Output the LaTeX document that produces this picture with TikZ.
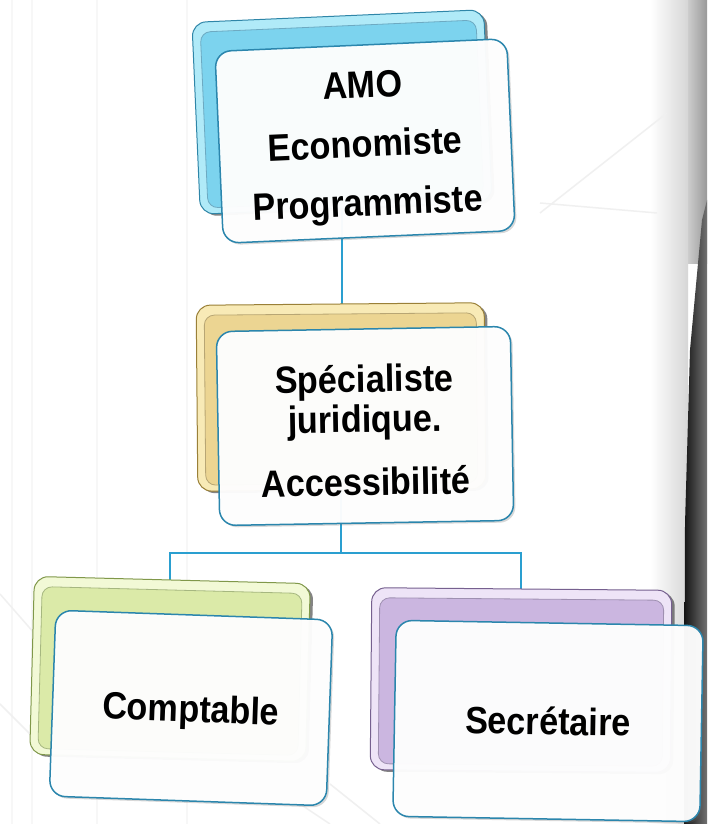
\documentclass[tikz,border=0pt]{standalone}
\usepackage{fontspec}
\newfontfamily\lbl{Liberation Sans}[FakeStretch=0.9]
\usetikzlibrary{shadows}
\pgfdeclarelayer{bgimg}
\pgfdeclarelayer{lines}
\pgfsetlayers{bgimg,lines,main}
\definecolor{bluehi}{HTML}{B0EAF8}
\definecolor{bluemain}{HTML}{7CD3EE}
\definecolor{bluedark}{HTML}{2F86A8}
\definecolor{goldhi}{HTML}{F8EAB6}
\definecolor{goldmain}{HTML}{ECD592}
\definecolor{golddark}{HTML}{9A8038}
\definecolor{greenhi}{HTML}{F2F9D6}
\definecolor{greenmain}{HTML}{DBEAA8}
\definecolor{greendark}{HTML}{80984A}
\definecolor{purphi}{HTML}{EEE4F7}
\definecolor{purpmain}{HTML}{CBB6E0}
\definecolor{purpdark}{HTML}{76608F}
\definecolor{frontline}{HTML}{2B86AD}
\definecolor{connline}{HTML}{2A9FD0}
\tikzset{
  backbox/.style={rectangle, rounded corners=14pt, inner sep=0pt, line width=1pt,
    drop shadow={shadow xshift=3pt, shadow yshift=-2pt, opacity=.6, fill=black!80}},
  backin/.style={rectangle, rounded corners=10pt, inner sep=0pt, line width=.8pt},
  frontbox/.style={rectangle, rounded corners=16pt, inner sep=0pt, line width=1.5pt,
    draw=frontline, fill=white, fill opacity=.96, text opacity=1, align=center,
    drop shadow={shadow xshift=2pt, shadow yshift=-2pt, opacity=.25, fill=black!60},
    font=\lbl\bfseries\fontsize{38}{59}\selectfont},
  conn/.style={draw=connline, line width=1.4pt},
  faint/.style={draw=black!6, line width=1.5pt}
}
\begin{document}
\begin{tikzpicture}[x=1pt,y=1pt]
\useasboundingbox (0,0) rectangle (707,824);
\begin{pgfonlayer}{bgimg}
  \fill[white] (0,0) rectangle (707,824);
  \fill[black!3] (11,0) rectangle (13,824);
  \fill[black!3] (31,0) rectangle (33,824);
  \fill[black!3] (96,0) rectangle (98,824);
  \fill[black!3] (186,0) rectangle (188,824);
  \shade[left color=white, right color=black!16] (650,0) rectangle (688,824);
  \shade[left color=black!20, right color=black!40] (688,560) rectangle (707,824);
  \shade[left color=black!92, right color=black!55] (684,0) -- (707,0) -- (707,624) -- (702,604) -- (690,474) -- (685,300) -- cycle;
  \draw[faint] (667,711) -- (540,611);
  \draw[faint] (540,621) -- (657,611);
  \draw[faint] (0,230) -- (70,150);
  \draw[faint] (0,120) -- (40,80);
  \draw[faint] (330,40) -- (380,0);
  \draw[faint] (300,20) -- (330,0);
\end{pgfonlayer}

% back boxes
\node[backbox, fill=bluehi, draw=bluedark, minimum width=292pt, minimum height=192pt, rotate=2.5] (topback) at (342,712) {};
\node[backin, fill=bluemain, draw=bluedark!70, minimum width=276pt, minimum height=176pt, rotate=2.5] (topbackin) at (342,710) {};
\node[backbox, fill=goldhi, draw=golddark, minimum width=288pt, minimum height=186pt, rotate=0.5] (midback) at (341,427) {};
\node[backin, fill=goldmain, draw=golddark!70, minimum width=272pt, minimum height=170pt, rotate=0.5] (midbackin) at (341,425) {};
\node[backbox, fill=greenhi, draw=greendark, minimum width=276pt, minimum height=178pt, rotate=-1.5] (leftback) at (170,155) {};
\node[backin, fill=greenmain, draw=greendark!70, minimum width=260pt, minimum height=162pt, rotate=-1.5] (leftbackin) at (170,153) {};
\node[backbox, fill=purphi, draw=purpdark, minimum width=300pt, minimum height=182pt, rotate=-0.5] (rightback) at (521,144) {};
\node[backin, fill=purpmain, draw=purpdark!70, minimum width=284pt, minimum height=166pt, rotate=-0.5] (rightbackin) at (521,142) {};

% front boxes
\node[frontbox, minimum width=292pt, minimum height=192pt, rotate=2.5] (topfront) at (365,683)
  {\rule{0pt}{40pt}AMO\\Economiste\\Programmiste};
\node[frontbox, minimum width=294pt, minimum height=194pt, rotate=1, font=\lbl\bfseries\fontsize{38}{40}\selectfont] (midfront) at (365,398)
  {\rule{0pt}{36pt}Spécialiste\\juridique.\\[23pt]Accessibilité};
\node[frontbox, minimum width=277pt, minimum height=186pt, rotate=-2] (leftfront) at (191,116)
  {\rule{0pt}{36pt}Comptable};
\node[frontbox, minimum width=307pt, minimum height=196pt, rotate=-1] (rightfront) at (548,103)
  {Secrétaire};

% connectors
\coordinate (bus) at (342,271);
\begin{pgfonlayer}{lines}
  \draw[conn] (topback.center) -- (topback.center |- midback.center);
  \draw[conn] (midback.center) -- (midback.center |- bus);
  \draw[conn] (leftback.center) |- (bus) -| (rightback.center);
\end{pgfonlayer}
\end{tikzpicture}
\end{document}
